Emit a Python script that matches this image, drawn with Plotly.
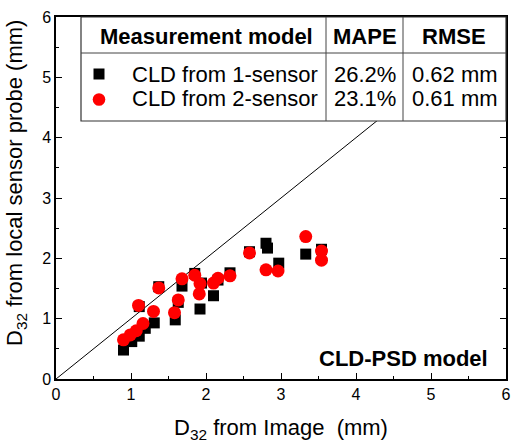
import plotly.graph_objects as go

# ---- data ----
img_1sensor = [0.90, 1.01, 1.11, 1.19, 1.31, 1.11, 1.37, 1.59, 1.63, 1.68, 1.85, 1.92, 1.94,
               2.10, 2.16, 2.32, 2.58, 2.80, 2.82, 2.97, 3.33, 3.54]
probe_1sensor = [0.48, 0.62, 0.71, 0.84, 0.93, 1.20, 1.53, 0.98, 1.27, 1.54, 1.75, 1.16, 1.59,
                 1.38, 1.64, 1.76, 2.11, 2.25, 2.17, 1.92, 2.07, 2.15]
img_2sensor = [0.90, 0.99, 1.07, 1.16, 1.10, 1.30, 1.37, 1.58, 1.63, 1.68, 1.85, 1.92, 1.91,
               2.10, 2.16, 2.32, 2.58, 2.80, 2.96, 3.33, 3.54, 3.54]
probe_2sensor = [0.65, 0.73, 0.80, 0.92, 1.22, 1.12, 1.51, 1.10, 1.31, 1.66, 1.72, 1.58, 1.41,
                 1.59, 1.67, 1.71, 2.09, 1.81, 1.79, 2.36, 2.12, 1.97]
identity_line = [0, 6]

table_header = ["Measurement model", "MAPE", "RMSE"]
series_names = ["CLD from 1-sensor", "CLD from 2-sensor"]
mape_values = ["26.2%", "23.1%"]
rmse_values = ["0.62 mm", "0.61 mm"]
x_ticks = [0, 1, 2, 3, 4, 5, 6]
y_ticks = [0, 1, 2, 3, 4, 5, 6]

FONT = "Arial, Liberation Sans, sans-serif"

# ---- layout geometry (pixels) ----
W, H = 511, 443
L, R, T, B = 56, 5, 17, 64
PW, PH = W - L - R, H - T - B


def px(x):
    return (x - L) / PW


def py(y):
    return (H - B - y) / PH


fig = go.Figure()
fig.add_trace(go.Scatter(x=identity_line, y=identity_line, mode="lines",
                         line=dict(color="black", width=1), showlegend=False,
                         hoverinfo="skip"))
fig.add_trace(go.Scatter(x=img_1sensor, y=probe_1sensor, mode="markers",
                         name=series_names[0],
                         marker=dict(symbol="square", size=11, color="black",
                                     line=dict(width=0)),
                         showlegend=False))
fig.add_trace(go.Scatter(x=img_2sensor, y=probe_2sensor, mode="markers",
                         name=series_names[1],
                         marker=dict(symbol="circle", size=13, color="#ff0000",
                                     line=dict(width=0)),
                         showlegend=False))

axis_common = dict(
    range=[0, 6], showline=True, linecolor="black", linewidth=1.5, mirror="ticks",
    ticks="inside", ticklen=6, tickwidth=1, tickcolor="black",
    showgrid=False, zeroline=False, automargin=False,
    tickfont=dict(family=FONT, size=16, color="black"),
    minor=dict(dtick=0.5, ticks="inside", ticklen=3, tickwidth=1, tickcolor="black",
               showgrid=False),
)
fig.update_xaxes(**axis_common, tickvals=x_ticks,
                 title=dict(text="D<sub>32</sub> from Image \u00a0(mm)",
                            font=dict(family=FONT, size=22, color="black"),
                            standoff=21))
fig.update_yaxes(**axis_common, tickvals=y_ticks)

shapes = []
# table background and borders
tx0, tx1, ty0, ty1 = 81, 506, 17, 121
shapes.append(dict(type="rect", xref="paper", yref="paper", layer="above",
                   x0=px(tx0), x1=px(tx1), y0=py(ty1), y1=py(ty0),
                   fillcolor="white", line=dict(color="#333333", width=1.2)))
shapes.append(dict(type="line", xref="paper", yref="paper", layer="above",
                   x0=px(tx0), x1=px(tx1), y0=py(53), y1=py(53),
                   line=dict(color="#444444", width=1)))
for cx in (326, 403):
    shapes.append(dict(type="line", xref="paper", yref="paper", layer="above",
                       x0=px(cx), x1=px(cx), y0=py(ty1), y1=py(ty0),
                       line=dict(color="#444444", width=1)))
# legend keys
shapes.append(dict(type="rect", xref="paper", yref="paper", layer="above",
                   x0=px(93.5), x1=px(104.5), y0=py(79.5), y1=py(68.5),
                   fillcolor="black", line=dict(width=0)))
shapes.append(dict(type="circle", xref="paper", yref="paper", layer="above",
                   x0=px(92.7), x1=px(105.3), y0=py(105.8), y1=py(93.2),
                   fillcolor="#ff0000", line=dict(width=0)))

ann = []


def add_text(text, x, y, xanchor="center", bold=False, size=22):
    ann.append(dict(text=f"<b>{text}</b>" if bold else text, xref="paper", yref="paper",
                    x=px(x), y=py(y), xanchor=xanchor, yanchor="middle",
                    showarrow=False, font=dict(family=FONT, size=size, color="black")))


add_text(table_header[0], 206, 37, bold=True)
add_text(table_header[1], 365, 37, bold=True)
add_text(table_header[2], 454, 37, bold=True)
for i, yy in enumerate((74, 99)):
    add_text(series_names[i], 130, yy, xanchor="left")
    add_text(mape_values[i], 365, yy)
    add_text(rmse_values[i], 454.5, yy)

add_text("CLD-PSD model", 490, 358, xanchor="right", bold=True, size=22)

# y-axis title as rotated annotation
ann.append(dict(text="D<sub>32</sub> from local sensor probe (mm)", xref="paper",
                yref="paper", x=px(16), y=py(183), xanchor="center", yanchor="middle",
                textangle=-90, showarrow=False,
                font=dict(family=FONT, size=22, color="black")))

fig.update_layout(
    width=W, height=H, margin=dict(l=L, r=R, t=T, b=B),
    paper_bgcolor="white", plot_bgcolor="white",
    shapes=shapes, annotations=ann,
    font=dict(family=FONT, color="black"),
)

fig.write_html("out.html")
